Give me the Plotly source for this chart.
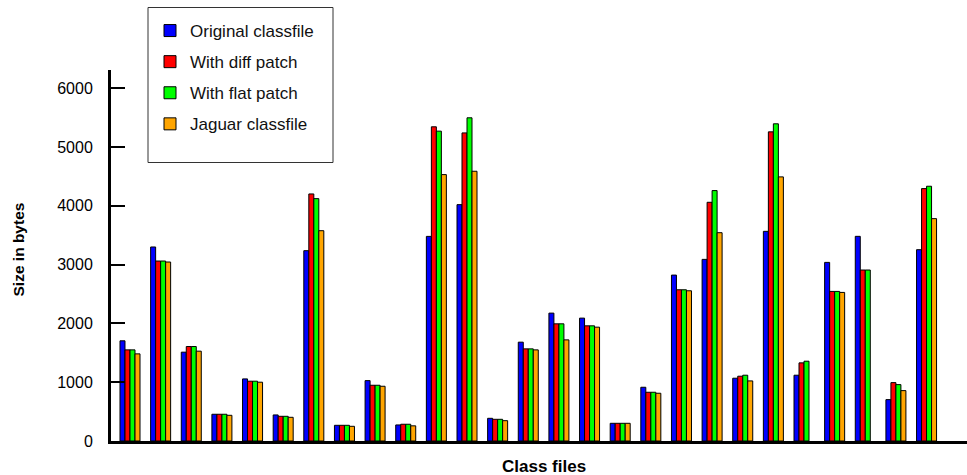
import plotly.graph_objects as go

groups = list(range(27))
original = [1704, 3300, 1511, 455, 1056, 443, 3237, 267, 1027, 273, 3480, 4020, 386, 1681,
            2175, 2090, 301, 914, 2822, 3089, 1068, 3566, 1119, 3038, 3481, 704, 3254]
diff_patch = [1550, 3061, 1607, 455, 1017, 420, 4202, 267, 948, 285, 5344, 5240, 369, 1567,
              1993, 1959, 301, 829, 2572, 4060, 1102, 5258, 1329, 2544, 2908, 993, 4293]
flat_patch = [1550, 3061, 1607, 455, 1017, 420, 4122, 267, 948, 285, 5270, 5497, 369, 1567,
              1993, 1959, 301, 829, 2572, 4259, 1119, 5395, 1357, 2544, 2908, 959, 4333]
jaguar = [1482, 3044, 1528, 437, 1000, 403, 3577, 250, 931, 258, 4531, 4588, 346, 1550,
          1720, 1936, 301, 812, 2555, 3543, 1022, 4492, None, 2527, None, 857, 3782]

series_names = ["Original classfile", "With diff patch", "With flat patch", "Jaguar classfile"]
series_values = [original, diff_patch, flat_patch, jaguar]
series_colors = ["#0000FF", "#FF0000", "#00FF00", "#FFA500"]

y_ticks = [0, 1000, 2000, 3000, 4000, 5000, 6000]

fig = go.Figure()
for i, (name, vals, col) in enumerate(zip(series_names, series_values, series_colors)):
    fig.add_trace(go.Bar(
        x=groups, y=vals, name=name,
        marker=dict(color=col, line=dict(color="black", width=1)),
        legendgroup=str(i),
    ))

W, H = 967, 475
L, R, T, B = 111, 0, 70, 475 - 441
pw = W - L - R
ph = H - T - B

def px_x(p):
    return (p - L) / pw

def px_y(p):
    return (H - B - p) / ph

fig.update_layout(
    width=W, height=H,
    margin=dict(l=L, r=R, t=T, b=B, pad=0),
    paper_bgcolor="white", plot_bgcolor="white",
    barmode="group", bargap=0.347, bargroupgap=0,
    font=dict(family="Liberation Sans, Arial, sans-serif", size=15, color="black"),
    showlegend=True,
    legend=dict(
        x=px_x(150), y=px_y(13), xanchor="left", yanchor="top",
        xref="paper", yref="paper",
        bgcolor="rgba(0,0,0,0)", borderwidth=0,
        font=dict(size=17, color="#111"),
        traceorder="grouped", tracegroupgap=6,
    ),
    xaxis=dict(
        range=[-0.62, 27.32], showticklabels=False, ticks="",
        showline=True, linecolor="black", linewidth=3,
        showgrid=False, zeroline=False,
    ),
    yaxis=dict(
        range=[0, 6310], tickvals=y_ticks,
        ticks="inside", ticklen=14, tickwidth=2, tickcolor="black",
        showline=True, linecolor="black", linewidth=3,
        showgrid=False, zeroline=False,
        tickfont=dict(size=16), ticklabelstandoff=12,
    ),
    shapes=[dict(
        type="rect", xref="paper", yref="paper",
        x0=px_x(148), x1=px_x(333), y0=px_y(162.5), y1=px_y(7.5),
        line=dict(color="#333", width=1), fillcolor="rgba(0,0,0,0)",
    )],
    annotations=[
        dict(text="<b>Class files</b>", xref="paper", yref="paper",
             x=px_x(544), y=px_y(466.5), xanchor="center", yanchor="middle",
             showarrow=False, font=dict(size=17)),
        dict(text="<b>Size in bytes</b>", xref="paper", yref="paper",
             x=px_x(18), y=px_y(249.5), xanchor="center", yanchor="middle",
             textangle=-90, showarrow=False, font=dict(size=15.5)),
    ],
)

fig.write_html(
    "out.html",
    config={"displayModeBar": False},
    post_script="document.body.style.margin='0';document.body.style.overflow='hidden';",
)
